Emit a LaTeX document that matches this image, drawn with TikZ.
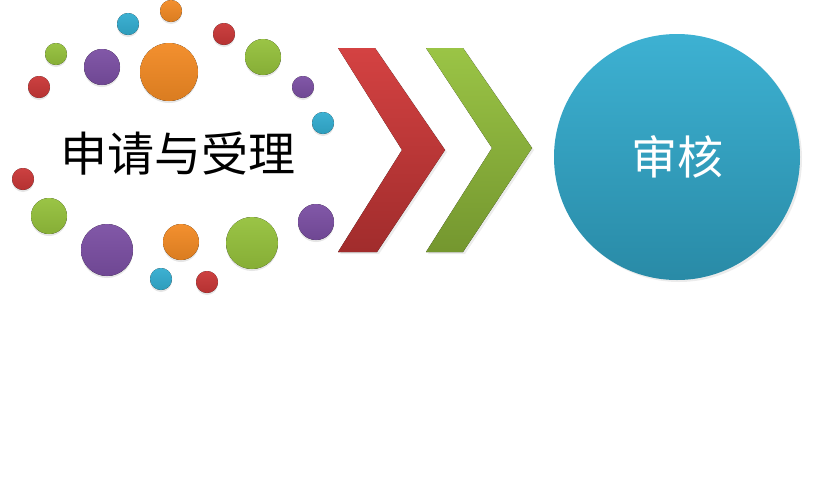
\documentclass[tikz,border=0pt]{standalone}
\usepackage{fontspec}
\usepackage{tikz}
\usetikzlibrary{shadows}
\newfontfamily\cjk{Noto Sans CJK SC}

\definecolor{ballred}{HTML}{C93737}
\definecolor{ballgreen}{HTML}{95C13C}
\definecolor{ballorange}{HTML}{F28A24}
\definecolor{ballpurple}{HTML}{7B4FA3}
\definecolor{ballcyan}{HTML}{33ADD0}
\definecolor{chevred}{HTML}{D44242}

\tikzset{
  ballshade/.style={drop shadow={opacity=0.2,shadow xshift=0pt,shadow yshift=-2pt}},
  chevshade/.style={drop shadow={opacity=0.15,shadow xshift=2pt,shadow yshift=-2pt}},
}

\begin{document}
\begin{tikzpicture}[x=1pt,y=-1pt]

 \useasboundingbox (0,0) rectangle (831,485); % page frame

% bubbles round the first step: x, y, radius, colour
 \foreach \bx/\by/\br/\bc in {
    171/11/11/ballorange, 128/24/11/ballcyan, 224/34/11/ballred,
    56/54/11/ballgreen, 102/67/18/ballpurple, 169/72/29/ballorange,
    263/57/18/ballgreen, 39/87/11/ballred, 303/87/11/ballpurple,
    323/123/11/ballcyan, 23/179/11/ballred, 49/216/18/ballgreen,
    107/250/26/ballpurple, 181/242/18/ballorange, 161/279/11/ballcyan,
    207/282/11/ballred, 252/243/26/ballgreen, 316/222/18/ballpurple}
   \fill[ballshade,top color=\bc!95!white,bottom color=\bc!90!black] (\bx,\by) circle (\br);

 \node[font=\cjk\fontsize{47}{47}\selectfont,text=black] (shenqing) at (178,154) {申请与受理};

% the two chevrons
 \fill[chevshade,top color=chevred,bottom color=ballred!80!black]
   (338,48) -- (375,48) -- (445,150) -- (377,252) -- (338,252) -- (402,150) -- cycle;
 \fill[chevshade,top color=ballgreen!95!white,bottom color=ballgreen!78!black]
   (426,48) -- (463,48) -- (532,148) -- (463,252) -- (426,252) -- (492,148) -- cycle;

% second step
 \node[circle,minimum size=246pt,inner sep=0pt,chevshade,
       top color=ballcyan!95!white,bottom color=ballcyan!80!black,
       font=\cjk\fontsize{46}{46}\selectfont,text=white] (shenhe) at (677,157) {审核};

\end{tikzpicture}
\end{document}
